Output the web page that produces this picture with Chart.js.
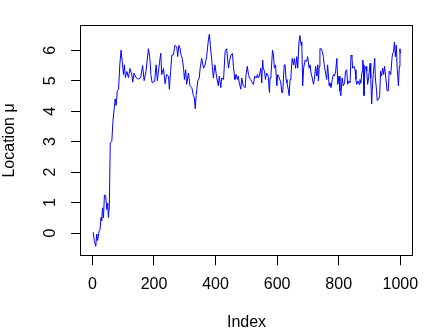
<!DOCTYPE html>
<html><head><meta charset="utf-8">
<script src="https://cdn.jsdelivr.net/npm/chart.js@4.4.1/dist/chart.umd.min.js"></script>
<style>html,body{margin:0;padding:0;background:#fff;}</style>
</head><body>
<canvas id="c" width="432" height="336"></canvas>
<script>
// ---- data ----
const indexValues = [
  1,3,6,11,14,17,22,25,28,30,33,36,39,43,47,50,52,55,58,63,67,70,74,77,81,85,89,93,97,101,104,
  107,112,117,122,128,131,135,142,149,157,163,168,174,182,187,190,194,202,207,211,218,222,225,231,236,241,247,250,254,258,263,268,
  274,277,281,285,288,292,296,299,303,306,312,317,323,328,331,334,337,342,347,350,355,361,366,371,377,380,383,388,393,398,404,409,412,417,420,426,431,436,442,445,450,455,458,461,
  463,467,471,474,477,482,485,490,496,499,503,507,510,514,519,523,527,532,536,539,542,547,550,553,555,559,562,566,571,575,577,580,585,588,591,595,599,602,607,612,615,618,623,
  626,629,632,636,639,642,645,649,653,656,660,664,667,671,674,678,680,683,686,691,696,699,704,707,710,714,718,721,725,729,732,734,737,739,743,747,750,753,758,761,764,769,772,775,779,783,786,790,794,797,801,804,
  807,811,815,819,822,826,829,833,837,840,843,845,850,853,856,858,863,866,869,872,876,878,880,882,885,889,891,894,897,902,904,907,909,912,917,919,923,925,930,933,936,939,943,946,949,954,957,961,964,969,973,975,978,981,984,987,990,994,997,999,1000
];
const muValues = [
  0.00,0.02,-0.24,-0.43,-0.03,-0.24,0.08,0.13,0.51,0.40,0.83,0.50,1.25,1.23,0.77,0.99,0.51,0.88,2.96,3.01,3.70,3.70,4.40,4.19,4.67,4.72,5.52,6.00,5.63,5.20,5.52,
  5.10,5.30,5.10,5.40,5.20,4.95,5.25,5.10,5.05,5.10,5.50,5.00,5.30,6.05,5.70,5.20,4.93,4.98,5.52,5.00,5.60,5.90,5.20,5.40,4.90,5.20,5.15,4.72,5.30,5.84,5.85,6.16,
  6.11,5.79,6.16,6.05,5.84,5.73,5.41,5.04,5.36,4.88,5.25,4.83,4.77,4.51,4.45,4.08,4.51,4.99,5.09,5.41,5.73,5.41,5.52,5.79,6.37,6.53,6.16,5.63,5.09,5.52,5.09,4.83,5.15,4.77,5.09,5.04,5.95,6.05,5.41,5.63,5.84,5.89,5.47,5.20,
  5.04,5.20,5.04,5.15,4.93,4.72,5.09,4.83,4.77,5.20,5.47,5.20,5.09,5.04,4.93,4.88,5.15,5.09,5.20,5.09,5.15,5.41,4.93,5.68,5.41,5.31,5.04,5.25,5.15,4.61,5.09,5.20,6.00,5.84,5.41,5.52,4.83,5.20,5.09,4.93,4.61,4.61,5.52,
  5.52,5.04,4.93,4.72,4.51,5.04,5.20,5.73,5.52,5.73,5.41,5.79,5.41,6.27,6.48,6.16,6.27,4.83,5.41,5.68,5.63,5.79,5.41,5.52,5.25,5.09,4.88,5.04,5.47,5.15,5.52,4.99,5.47,6.05,6.05,5.95,5.79,5.52,5.20,5.04,5.52,4.83,4.93,4.77,5.04,5.20,5.15,5.31,5.73,4.88,5.15,4.67,
  4.51,5.09,4.83,4.93,5.31,5.36,4.88,4.99,4.93,5.84,5.79,5.41,5.47,5.36,5.04,4.88,4.99,4.88,5.04,4.93,5.31,5.68,5.52,4.51,5.36,5.47,5.31,4.88,5.09,5.57,5.09,4.24,4.67,5.20,5.73,5.09,4.67,4.35,4.40,4.51,5.31,5.15,5.41,5.20,5.47,4.99,4.67,4.67,5.31,5.20,5.73,5.89,5.95,6.27,5.79,6.16,5.41,4.83,5.47,6.05,5.89
];
const xTickValues = [0, 200, 400, 600, 800, 1000];
const yTickValues = [0, 1, 2, 3, 4, 5, 6];
const xTitle = 'Index';
const yTitle = 'Location μ';

const points = indexValues.map((x, i) => ({ x: x, y: muValues[i] }));
const FONT = { family: '"Liberation Sans", Arial, Helvetica, sans-serif', size: 16 };

const framePlugin = {
  id: 'frame',
  afterDraw(chart) {
    const { ctx, chartArea: a } = chart;
    const l = Math.floor(a.left) + 0.5, t = Math.floor(a.top) + 0.5;
    const r = Math.floor(a.right) + 0.5, b = Math.floor(a.bottom) + 0.5;
    ctx.save();
    ctx.strokeStyle = '#000';
    ctx.lineWidth = 1;
    ctx.strokeRect(l, t, r - l, b - t);
    ctx.restore();
  }
};

new Chart(document.getElementById('c'), {
  type: 'scatter',
  data: {
    datasets: [{
      data: points,
      showLine: true,
      borderColor: '#0000FF',
      borderWidth: 1,
      pointRadius: 0,
      pointHoverRadius: 0,
      tension: 0,
      fill: false
    }]
  },
  options: {
    responsive: false,
    devicePixelRatio: 1,
    animation: false,
    events: [],
    layout: { padding: { left: 0, right: 19.7, top: 19.3, bottom: 0 } },
    plugins: { legend: { display: false }, tooltip: { enabled: false }, title: { display: false } },
    scales: {
      x: {
        type: 'linear',
        position: 'bottom',
        min: -38,
        max: 1039,
        afterBuildTicks: s => { s.ticks = xTickValues.map(v => ({ value: v })); },
        afterFit: s => { s.height = 80.3; },
        ticks: { font: FONT, color: '#000', padding: 10, autoSkip: false, maxRotation: 0, minRotation: 0,
                 callback: v => String(v) },
        grid: { drawOnChartArea: false, drawTicks: true, tickLength: 9.6, color: '#000', lineWidth: 1 },
        border: { display: false },
        title: { display: true, text: xTitle, font: FONT, color: '#000', padding: { top: 0, bottom: 3.6 } }
      },
      y: {
        type: 'linear',
        position: 'left',
        min: -0.74,
        max: 6.82,
        afterBuildTicks: s => { s.ticks = yTickValues.map(v => ({ value: v })); },
        afterFit: s => { s.width = 80.7; },
        ticks: { font: FONT, color: '#000', padding: 15.6, autoSkip: false, minRotation: 90, maxRotation: 90,
                 crossAlign: 'center', callback: v => String(v) },
        grid: { drawOnChartArea: false, drawTicks: true, tickLength: 9.6, color: '#000', lineWidth: 1 },
        border: { display: false },
        title: { display: true, text: yTitle, font: FONT, color: '#000', padding: { top: 0, bottom: 0 } }
      }
    }
  },
  plugins: [framePlugin]
});
</script>
</body></html>
